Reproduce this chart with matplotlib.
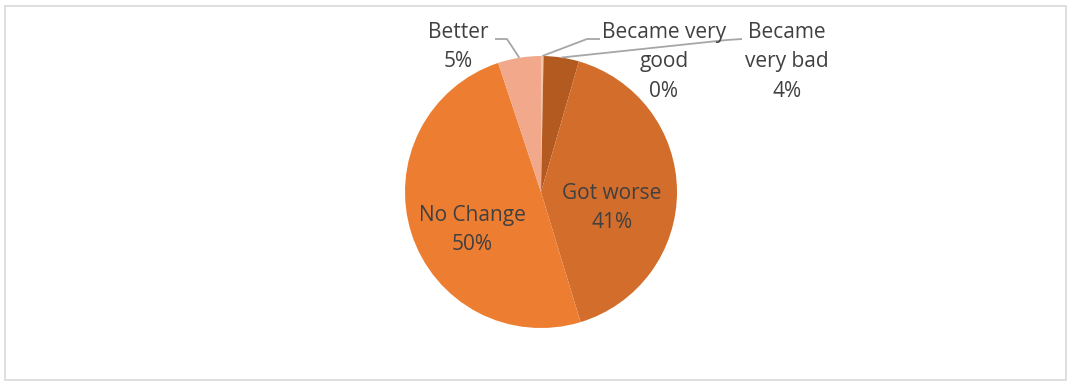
import matplotlib
matplotlib.use("Agg")
import matplotlib.pyplot as plt
import numpy as np

categories = ["Became very good", "Became very bad", "Got worse", "No Change", "Better"]
values = [0.3, 4.2, 40.8, 49.6, 5.1]
pct_labels = ["0%", "4%", "41%", "50%", "5%"]
label_text = ["Became very\ngood", "Became\nvery bad", "Got worse", "No Change", "Better"]
colors = ["#F6C6A8", "#B25A20", "#D26D2B", "#ED7D31", "#F2A88B"]

W, H = 1067, 381
fig = plt.figure(figsize=(W / 100, H / 100), dpi=100)
ax = fig.add_axes([0, 0, 1, 1])

cx, cy, r = 541, H - 192, 136
wedges, _ = ax.pie(values, colors=colors, startangle=90, counterclock=False,
                   center=(cx, cy), radius=r, wedgeprops=dict(linewidth=0))
ax.set_xlim(0, W)
ax.set_ylim(0, H)
ax.set_aspect("equal")
ax.axis("off")

# frame
ax.add_patch(plt.Rectangle((5, H - 380), 1061, 374, fill=False, edgecolor="#D9D9D9", linewidth=1.2))

txt_color = "#404040"
fs = 15
font = "Open Sans"
ls = 1.55

# label positions (pixel, from top) — layout only
inside = {2: (612, 208), 3: (472, 230)}
outside = {0: (664, 62), 1: (787, 62), 4: (458, 47)}
leader_elbow = {0: [(600, 39), (587, 39)], 1: [(742, 39), (727, 40)], 4: [(495, 39), (507, 39)]}

for i, w in enumerate(wedges):
    text = f"{label_text[i]}\n{pct_labels[i]}"
    if i in inside:
        x, y = inside[i]
    else:
        x, y = outside[i]
        mid = np.deg2rad((w.theta1 + w.theta2) / 2)
        px, py = cx + r * np.cos(mid), cy + r * np.sin(mid)
        pts = leader_elbow[i]
        xs = [pts[0][0], pts[1][0], px]
        ys = [H - pts[0][1], H - pts[1][1], py]
        ax.plot(xs, ys, color="#A6A6A6", linewidth=1.3, solid_capstyle="butt")
    ax.text(x, H - y, text, ha="center", va="center", fontsize=fs, color=txt_color,
            family=font, linespacing=ls)

fig.savefig("out.png", dpi=100)
